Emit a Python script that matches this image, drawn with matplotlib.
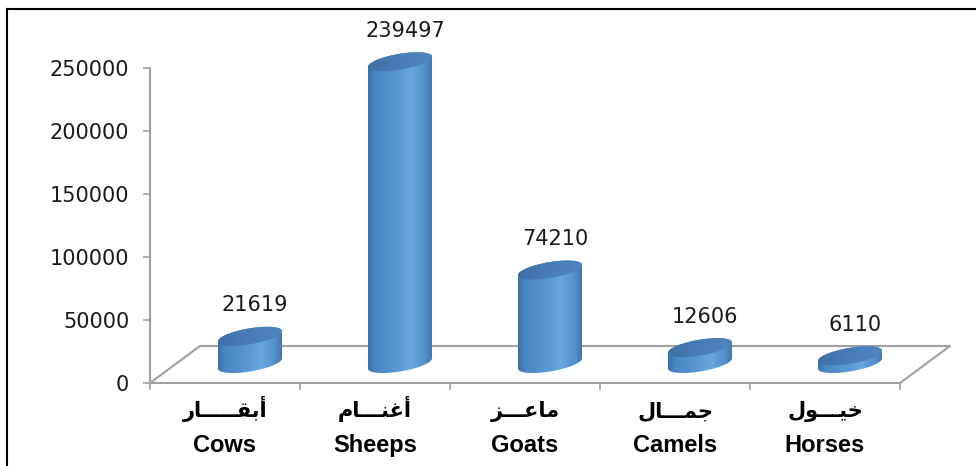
import numpy as np
import matplotlib
matplotlib.use('Agg')
import matplotlib.pyplot as plt
from matplotlib.patches import PathPatch, Polygon
from matplotlib.path import Path
from matplotlib.lines import Line2D

# data
categories_en = ['Cows', 'Sheeps', 'Goats', 'Camels', 'Horses']
categories_ar = ['أبقـــــار', 'أغنـــام', 'ماعـــز', 'جمـــال', 'خيـــول']
values = [21619, 239497, 74210, 12606, 6110]
yticks = [0, 50000, 100000, 150000, 200000, 250000]

# --- tiny arabic shaper (presentation forms + visual order) ---
FORMS = {
    'أ': ('\uFE83', '\uFE84', None, None),
    'ا': ('\uFE8D', '\uFE8E', None, None),
    'ب': ('\uFE8F', '\uFE90', '\uFE91', '\uFE92'),
    'ق': ('\uFED5', '\uFED6', '\uFED7', '\uFED8'),
    'ر': ('\uFEAD', '\uFEAE', None, None),
    'غ': ('\uFECD', '\uFECE', '\uFECF', '\uFED0'),
    'ن': ('\uFEE5', '\uFEE6', '\uFEE7', '\uFEE8'),
    'م': ('\uFEE1', '\uFEE2', '\uFEE3', '\uFEE4'),
    'ع': ('\uFEC9', '\uFECA', '\uFECB', '\uFECC'),
    'ز': ('\uFEAF', '\uFEB0', None, None),
    'ج': ('\uFE9D', '\uFE9E', '\uFE9F', '\uFEA0'),
    'ل': ('\uFEDD', '\uFEDE', '\uFEDF', '\uFEE0'),
    'خ': ('\uFEA5', '\uFEA6', '\uFEA7', '\uFEA8'),
    'ي': ('\uFEF1', '\uFEF2', '\uFEF3', '\uFEF4'),
    'و': ('\uFEED', '\uFEEE', None, None),
}
TATWEEL = '\u0640'

def dual(c):
    return c == TATWEEL or (c in FORMS and FORMS[c][2] is not None)

def shape(word):
    out = []
    for i, c in enumerate(word):
        if c not in FORMS:
            out.append(c)
            continue
        prev = word[i-1] if i > 0 else None
        nxt = word[i+1] if i < len(word)-1 else None
        jp = prev is not None and dual(prev)
        jn = nxt is not None and (nxt in FORMS or nxt == TATWEEL) and dual(c)
        iso, fin, ini, med = FORMS[c]
        if jp and jn:
            out.append(med)
        elif jp:
            out.append(fin)
        elif jn:
            out.append(ini)
        else:
            out.append(iso)
    return ''.join(reversed(out))

W, H = 976, 466
fig = plt.figure(figsize=(W/100., H/100.), dpi=100)
ax = fig.add_axes([150./W, (H-383.)/H, 750./W, (383.-15)/H])
sx = 150.            # px per category
sy = 315./250000     # px per unit value

def dx(p): return p/sx
def dy(p): return p/sy

gray = '#a0a0a0'

# floor
fx, fy = dx(50), dy(37)
ax.plot([0, fx, 5+fx, 5], [0, fy, fy, 0], color=gray, lw=1.5, clip_on=False, zorder=1)

def gradient(stops, cols, n=200):
    cols = np.array([matplotlib.colors.to_rgb(c) for c in cols])
    t = np.linspace(0, 1, n)
    arr = np.stack([np.interp(t, stops, cols[:, k]) for k in range(3)], axis=-1)
    return arr[None, :, :]

body_grad = gradient([0, .1, .5, .68, .88, 1],
                     ['#3d6fa6', '#4985c2', '#5b9ad4', '#68a7df', '#5591cb', '#4477ae'])
top_grad = gradient([0, .5, 1], ['#3f70a7', '#4a7db7', '#4f85bf'])

rx, ry, s = 32., 8., 0.16
for i, v in enumerate(values):
    cx = i + 0.5 + dx(25)
    yb = dy(19.5)
    yt = yb + v
    # body outline
    t1 = np.linspace(np.pi, 2*np.pi, 60)
    t2 = np.linspace(0, np.pi, 60)
    xs = np.concatenate([[-rx], rx*np.cos(t1), [rx], rx*np.cos(t2)])
    ys_b = np.concatenate([[yt - dy(s*rx)], yb + dy(ry*np.sin(t1) + s*rx*np.cos(t1)),
                           [yt + dy(s*rx)], yt + dy(ry*np.sin(t2) + s*rx*np.cos(t2))])
    body = PathPatch(Path(np.column_stack([cx + dx(xs), ys_b])), facecolor='none', edgecolor='none')
    ax.add_patch(body)
    ext = [cx - dx(rx), cx + dx(rx), yb - dy(ry + s*rx + 2), yt + dy(ry + s*rx + 2)]
    im = ax.imshow(body_grad, extent=ext, aspect='auto', interpolation='bilinear', zorder=3)
    im.set_clip_path(body)
    # top ellipse
    t = np.linspace(0, 2*np.pi, 120)
    top = Polygon(np.column_stack([cx + dx(rx*np.cos(t)), yt + dy(ry*np.sin(t) + s*rx*np.cos(t))]),
                  closed=True, facecolor='none', edgecolor='none')
    ax.add_patch(top)
    im2 = ax.imshow(top_grad, extent=ext, aspect='auto', interpolation='bilinear', zorder=4)
    im2.set_clip_path(top)
    ax.annotate(str(v), xy=(cx, yt), xytext=(5, 31), textcoords='offset pixels',
                ha='center', va='center', fontsize=15, color='#1a1a1a')

# category labels
for i in range(len(categories_en)):
    ax.annotate(shape(categories_ar[i]), xy=(i+0.5, 0), xytext=(0, -34), textcoords='offset pixels',
                ha='center', va='baseline', fontsize=15, fontweight='bold', family='DejaVu Sans')
    ax.annotate(categories_en[i], xy=(i+0.5, 0), xytext=(0, -69), textcoords='offset pixels',
                ha='center', va='baseline', fontsize=17, fontweight='bold', family='Liberation Sans')

ax.set_xlim(0, 5)
ax.set_ylim(0, dy(368))
ax.set_xticks(range(6))
ax.set_xticklabels([])
ax.set_yticks(yticks)
ax.set_yticklabels([str(t) for t in yticks])
ax.tick_params(axis='y', length=5, width=1.2, color=gray, pad=10, labelsize=15, labelcolor='#1a1a1a')
ax.tick_params(axis='x', length=5, width=1.2, color=gray)
ax.spines['top'].set_visible(False)
ax.spines['right'].set_visible(False)
ax.spines['left'].set_color(gray)
ax.spines['left'].set_linewidth(1.5)
ax.spines['left'].set_bounds(0, 250000)
ax.spines['bottom'].set_color(gray)
ax.spines['bottom'].set_linewidth(1.5)
ax.patch.set_alpha(0)

# outer border (left and top only visible in the crop)
fig.add_artist(Line2D([7./W, 7./W], [0, 1-9./H], transform=fig.transFigure, color='k', lw=1.5))
fig.add_artist(Line2D([7./W, 1], [1-9./H, 1-9./H], transform=fig.transFigure, color='k', lw=1.5))

fig.savefig('out.png', dpi=100)
